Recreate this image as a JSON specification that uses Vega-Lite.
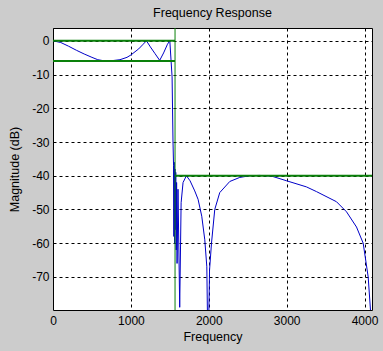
{
  "$schema": "https://vega.github.io/schema/vega-lite/v6.json",
  "width": 319,
  "height": 282,
  "autosize": {"type": "none"},
  "padding": {"left": 53, "top": 28, "right": 11, "bottom": 41},
  "background": "#cccccc",
  "title": {"text": "Frequency Response", "font": "Liberation Sans", "fontSize": 12.5, "fontWeight": "normal", "color": "black", "offset": 8, "anchor": "middle"},
  "datasets": {
    "resp": [
      {"f": 0, "db": 0}, {"f": 100, "db": -0.5}, {"f": 200, "db": -1.6}, {"f": 300, "db": -2.8},
      {"f": 400, "db": -3.9}, {"f": 500, "db": -4.9}, {"f": 575, "db": -5.6}, {"f": 650, "db": -5.9},
      {"f": 750, "db": -5.9}, {"f": 860, "db": -5.6}, {"f": 950, "db": -4.9}, {"f": 1000, "db": -4.2},
      {"f": 1100, "db": -2.4}, {"f": 1150, "db": -1.2}, {"f": 1200, "db": 0}, {"f": 1250, "db": -1.8},
      {"f": 1310, "db": -3.8}, {"f": 1370, "db": -5.8}, {"f": 1420, "db": -3.6}, {"f": 1470, "db": -1.0},
      {"f": 1500, "db": 0}, {"f": 1529, "db": -10.7}, {"f": 1541, "db": -30}, {"f": 1548, "db": -37},
      {"f": 1552, "db": -58}, {"f": 1556, "db": -36}, {"f": 1561, "db": -60}, {"f": 1566, "db": -38},
      {"f": 1571, "db": -56}, {"f": 1576, "db": -39}, {"f": 1582, "db": -62}, {"f": 1587, "db": -42},
      {"f": 1593, "db": -66}, {"f": 1605, "db": -44}, {"f": 1627, "db": -79}, {"f": 1645, "db": -48},
      {"f": 1670, "db": -42}, {"f": 1713, "db": -40}, {"f": 1760, "db": -41.5}, {"f": 1820, "db": -44.5},
      {"f": 1863, "db": -47}, {"f": 1910, "db": -52}, {"f": 1949, "db": -59}, {"f": 1975, "db": -67},
      {"f": 1991, "db": -95}, {"f": 2010, "db": -68}, {"f": 2035, "db": -60}, {"f": 2077, "db": -50},
      {"f": 2141, "db": -45}, {"f": 2270, "db": -41.7}, {"f": 2398, "db": -40.5}, {"f": 2527, "db": -40},
      {"f": 2650, "db": -39.9}, {"f": 2806, "db": -40.1}, {"f": 3000, "db": -41.5}, {"f": 3254, "db": -43.3},
      {"f": 3383, "db": -44.7}, {"f": 3640, "db": -47.7}, {"f": 3769, "db": -50.7}, {"f": 3897, "db": -55.2},
      {"f": 3983, "db": -60}, {"f": 4047, "db": -70}, {"f": 4077, "db": -80}, {"f": 4085, "db": -95}
    ],
    "spec": [
      {"seg": "a", "f": 0, "db": 0}, {"seg": "a", "f": 1567, "db": 0},
      {"seg": "b", "f": 0, "db": -6}, {"seg": "b", "f": 1567, "db": -6},
      {"seg": "c", "f": 1567, "db": -40}, {"seg": "c", "f": 4096, "db": -40}
    ],
    "edge": [{"f": 1567}]
  },
  "layer": [
    {
      "data": {"name": "resp"},
      "mark": {"type": "line", "color": "#0000c8", "strokeWidth": 1, "clip": true},
      "encoding": {
        "x": {"field": "f", "type": "quantitative", "scale": {"domain": [0, 4096], "nice": false, "zero": false},
          "axis": {"values": [0, 1000, 2000, 3000, 4000], "title": "Frequency", "labelExpr": "'' + datum.value", "labelFlush": false}},
        "y": {"field": "db", "type": "quantitative", "scale": {"domain": [-79.8, 3.8], "nice": false, "zero": false},
          "axis": {"values": [0, -10, -20, -30, -40, -50, -60, -70], "title": "Magnitude (dB)", "labelExpr": "'' + datum.value", "labelFlush": false}}
      }
    },
    {
      "data": {"name": "spec"},
      "mark": {"type": "line", "color": "#0a800a", "strokeWidth": 2, "clip": true},
      "encoding": {
        "x": {"field": "f", "type": "quantitative"},
        "y": {"field": "db", "type": "quantitative"},
        "detail": {"field": "seg"}
      }
    },
    {
      "data": {"name": "edge"},
      "mark": {"type": "rule", "color": "#0a800a", "strokeWidth": 1},
      "encoding": {"x": {"field": "f", "type": "quantitative"}}
    }
  ],
  "config": {
    "view": {"fill": "white", "stroke": "black", "strokeWidth": 1},
    "axis": {
      "domain": false, "ticks": false, "grid": true, "gridColor": "black", "gridDash": [3, 3], "gridOpacity": 1, "gridWidth": 1,
      "labelColor": "black", "labelFont": "Liberation Sans", "labelFontSize": 12,
      "titleColor": "black", "titleFont": "Liberation Sans", "titleFontSize": 12.5, "titleFontWeight": "normal"
    },
    "axisX": {"labelPadding": 5, "titlePadding": 4},
    "axisY": {"labelPadding": 4, "titlePadding": 10}
  }
}
